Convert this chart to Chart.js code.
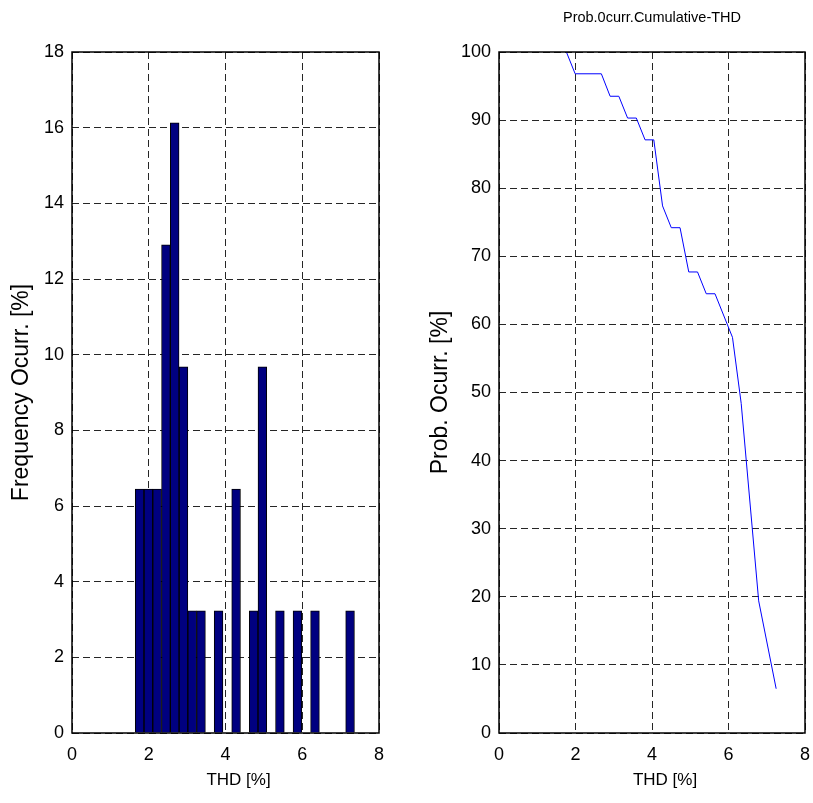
<!DOCTYPE html>
<html lang="en">
<head>
    <meta charset="UTF-8">
    <title>THD histogram</title>
    <style>
        body {
            margin: 0;
            background-color: #ffffff;
        }
        #wrap {
            position: relative;
            width: 813px;
            height: 803px;
        }
        #histChart { position: absolute; left: 0; top: 0; }
        #cumChart { position: absolute; left: 400px; top: 0; }
    </style>
    <script src="https://cdn.jsdelivr.net/npm/chart.js"></script>
</head>
<body>
    <div id="wrap">
        <canvas id="histChart" width="400" height="803"></canvas>
        <canvas id="cumChart" width="413" height="803"></canvas>
    </div>

    <script>
        // histogram: bin centres (THD %) and frequency of each bin (%)
        const binCentres = [1.762, 1.991, 2.219, 2.448, 2.676, 2.905, 3.133, 3.362, 3.590, 3.819,
                            4.047, 4.276, 4.504, 4.733, 4.961, 5.190, 5.418, 5.647, 5.875, 6.104,
                            6.332, 6.561, 6.789, 7.018, 7.246];
        const freqPct = [6.45, 6.45, 6.45, 12.9, 16.13, 9.68, 3.23, 3.23, 0, 3.23,
                         0, 6.45, 0, 3.23, 9.68, 0, 3.23, 0, 3.23, 0,
                         3.23, 0, 0, 0, 3.23];

        // cumulative curve
        const cumThd = [1.762, 1.991, 2.676, 2.905, 3.133, 3.362, 3.590, 3.819, 4.047, 4.276,
                        4.504, 4.733, 4.961, 5.190, 5.418, 5.647, 6.104, 6.332, 6.789, 7.246];
        const cumProb = [100, 96.8, 96.8, 93.5, 93.5, 90.3, 90.3, 87.1, 87.1, 77.4,
                         74.2, 74.2, 67.7, 67.7, 64.5, 64.5, 58.1, 48.4, 19.4, 6.5];

        const xTicks = [0, 2, 4, 6, 8];
        const xLabel = 'THD [%]';

        const FONT = 'Arial, "Liberation Sans", sans-serif';
        Chart.defaults.font.family = FONT;
        Chart.defaults.color = '#000';

        // solid black box around the plot area, plus the x label (sits a bit right of centre)
        const boxPlugin = {
            id: 'box',
            afterDraw(chart) {
                const a = chart.chartArea;
                const ctx = chart.ctx;
                ctx.save();
                ctx.strokeStyle = '#000';
                ctx.lineWidth = 1.5;
                ctx.strokeRect(a.left, a.top, a.right - a.left, a.bottom - a.top);
                ctx.fillStyle = '#000';
                ctx.font = '17px ' + FONT;
                ctx.textAlign = 'center';
                ctx.textBaseline = 'middle';
                ctx.fillText(xLabel, (a.left + a.right) / 2 + 13, 780);
                ctx.restore();
            }
        };

        const DASH = [7, 4];
        const gridStyle = {
            color: 'rgba(0,0,0,0.85)',
            lineWidth: 1,
            drawTicks: false
        };

        function xAxis() {
            return {
                type: 'linear',
                min: xTicks[0],
                max: xTicks[xTicks.length - 1],
                offset: false,
                grid: Object.assign({ offset: false }, gridStyle),
                border: { display: false, dash: DASH },
                ticks: { stepSize: 2, padding: 11, font: { size: 18 } },
                afterFit(s) {
                    s.height = 70;
                    s.paddingLeft = 0;
                    s.paddingRight = 0;
                }
            };
        }

        function yAxis(max, step, label, width, titlePad) {
            return {
                min: 0,
                max: max,
                grid: gridStyle,
                border: { display: false, dash: DASH },
                ticks: { stepSize: step, padding: 8, font: { size: 18 } },
                title: { display: true, text: label, font: { size: 23 }, padding: { top: titlePad, bottom: 0 } },
                afterFit(s) { s.width = width; }
            };
        }

        new Chart(document.getElementById('histChart'), {
            type: 'bar',
            data: {
                datasets: [{
                    data: binCentres.map((c, i) => ({ x: c, y: freqPct[i] })),
                    backgroundColor: '#000080',
                    borderColor: '#000000',
                    borderWidth: 1,
                    barPercentage: 1,
                    categoryPercentage: 1
                }]
            },
            options: {
                responsive: false,
                animation: false,
                layout: { padding: { top: 52, right: 21, left: 0, bottom: 0 } },
                plugins: { legend: { display: false }, tooltip: { enabled: false } },
                scales: {
                    x: xAxis(),
                    y: yAxis(18, 2, 'Frequency Ocurr. [%]', 72, 8)
                }
            },
            plugins: [boxPlugin]
        });

        new Chart(document.getElementById('cumChart'), {
            type: 'line',
            data: {
                datasets: [{
                    data: cumThd.map((t, i) => ({ x: t, y: cumProb[i] })),
                    borderColor: '#0000ff',
                    borderWidth: 1,
                    pointRadius: 0,
                    tension: 0,
                    fill: false
                }]
            },
            options: {
                responsive: false,
                animation: false,
                layout: { padding: { top: 0, right: 8, left: 0, bottom: 0 } },
                plugins: {
                    legend: { display: false },
                    tooltip: { enabled: false },
                    title: {
                        display: true,
                        text: 'Prob.0curr.Cumulative-THD',
                        fullSize: false,
                        font: { size: 14.5, weight: 'normal' },
                        padding: { top: 9, bottom: 25.6 }
                    }
                },
                scales: {
                    x: xAxis(),
                    y: yAxis(100, 10, 'Prob. Ocurr. [%]', 99, 27)
                }
            },
            plugins: [boxPlugin]
        });
    </script>
</body>
</html>
